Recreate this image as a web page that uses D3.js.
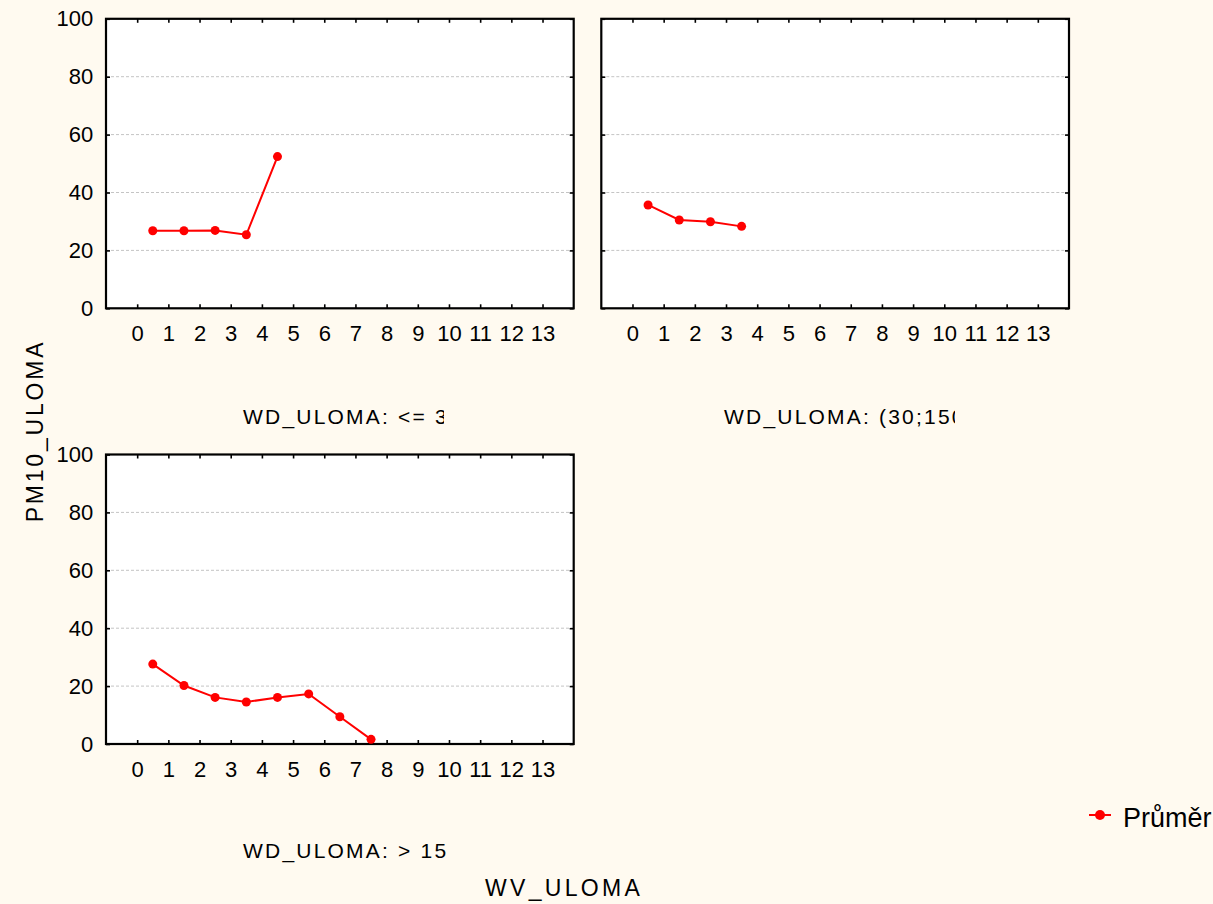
<!DOCTYPE html>
<html>
<head>
<meta charset="utf-8">
<script src="https://cdn.jsdelivr.net/npm/d3@7"></script>
<style>
  body { margin: 0; background: #fffaf0; }
  svg { display: block; font-family: "Liberation Sans", Arial, sans-serif; }
</style>
</head>
<body>
<div id="chart"></div>
<script>
// data
const xTicks = [0, 1, 2, 3, 4, 5, 6, 7, 8, 9, 10, 11, 12, 13];
const yTicks = [0, 20, 40, 60, 80, 100];
const gridTicks = [20, 40, 60, 80];

const wvLe30 = [0.5, 1.5, 2.5, 3.5, 4.5];
const pm10Le30 = [26.8, 26.8, 26.9, 25.4, 52.4];

const wv30to150 = [0.5, 1.5, 2.5, 3.5];
const pm1030to150 = [35.7, 30.5, 29.9, 28.3];

const wvGt150 = [0.5, 1.5, 2.5, 3.5, 4.5, 5.5, 6.5, 7.5];
const pm10Gt150 = [27.6, 20.2, 16.1, 14.5, 16.1, 17.3, 9.4, 1.6];

const panelTitles = ["WD_ULOMA: <= 30", "WD_ULOMA: (30;150>", "WD_ULOMA: > 150"];
const legendLabel = "Průměr";

const width = 1213;
const height = 904;
const pw = 467.7;
const ph = 289.5;
const red = "#ff0000";

const svg = d3.select("#chart")
    .append("svg")
    .attr("width", width)
    .attr("height", height);

svg.append("rect")
    .attr("width", width)
    .attr("height", height)
    .attr("fill", "#fffaf0");

const panels = [
    { xs: wvLe30, ys: pm10Le30, left: 106, top: 18.8, yLabels: true, title: panelTitles[0], titleX: 243, titleY: 424, clipR: 444 },
    { xs: wv30to150, ys: pm1030to150, left: 601.3, top: 18.8, yLabels: false, title: panelTitles[1], titleX: 724, titleY: 424, clipR: 955 },
    { xs: wvGt150, ys: pm10Gt150, left: 106, top: 454.5, yLabels: true, title: panelTitles[2], titleX: 243, titleY: 858, clipR: 447 }
];

const x = d3.scaleLinear().domain([-1, 14]).range([0, pw]);
const y = d3.scaleLinear().domain([0, 100]).range([ph, 0]);

const line = d3.line()
    .x(d => x(d[0]))
    .y(d => y(d[1]));

panels.forEach((p, i) => {
    const g = svg.append("g")
        .attr("transform", `translate(${p.left},${p.top})`);

    g.append("rect")
        .attr("width", pw)
        .attr("height", ph)
        .attr("fill", "#ffffff");

    // gridlines
    g.selectAll(".grid")
        .data(gridTicks)
        .enter()
        .append("line")
        .attr("x1", 0)
        .attr("x2", pw)
        .attr("y1", d => y(d))
        .attr("y2", d => y(d))
        .attr("stroke", "#c4c4c4")
        .attr("stroke-width", 1)
        .attr("stroke-dasharray", "3,2");

    // axes
    g.append("g")
        .attr("transform", `translate(0,${ph})`)
        .call(d3.axisBottom(x).tickValues(xTicks).tickSizeInner(-4).tickSizeOuter(0).tickPadding(17));
    g.append("g")
        .call(d3.axisTop(x).tickValues(xTicks).tickSizeInner(-4).tickSizeOuter(0).tickFormat(""));
    g.append("g")
        .call(d3.axisLeft(y).tickValues(yTicks).tickSizeInner(-4).tickSizeOuter(0).tickPadding(12.7)
            .tickFormat(p.yLabels ? d3.format("d") : ""));
    g.append("g")
        .attr("transform", `translate(${pw},0)`)
        .call(d3.axisRight(y).tickValues(yTicks).tickSizeInner(-4).tickSizeOuter(0).tickFormat(""));

    g.selectAll(".domain").remove();
    g.selectAll(".tick line").attr("stroke", "#000").attr("stroke-width", 1.6);
    g.selectAll(".tick text")
        .attr("fill", "#000")
        .style("font-size", "22px")
        .style("font-family", "\"Liberation Sans\", Arial, sans-serif");

    // frame
    g.append("rect")
        .attr("width", pw)
        .attr("height", ph)
        .attr("fill", "none")
        .attr("stroke", "#000")
        .attr("stroke-width", 2.2);

    // series
    const pts = p.xs.map((v, j) => [v, p.ys[j]]);
    g.append("path")
        .datum(pts)
        .attr("d", line)
        .attr("fill", "none")
        .attr("stroke", red)
        .attr("stroke-width", 2);

    g.selectAll(".dot")
        .data(pts)
        .enter()
        .append("circle")
        .attr("cx", d => x(d[0]))
        .attr("cy", d => y(d[1]))
        .attr("r", 4.5)
        .attr("fill", red);

    // panel title, clipped like the original
    svg.append("clipPath")
        .attr("id", `clip${i}`)
        .append("rect")
        .attr("x", 0)
        .attr("y", p.titleY - 30)
        .attr("width", p.clipR)
        .attr("height", 40);

    svg.append("text")
        .attr("x", p.titleX)
        .attr("y", p.titleY)
        .attr("clip-path", `url(#clip${i})`)
        .style("font-size", "21px")
        .style("letter-spacing", "2.2px")
        .attr("fill", "#000")
        .text(p.title);
});

// axis titles
svg.append("text")
    .attr("transform", "translate(43,431) rotate(-90)")
    .attr("text-anchor", "middle")
    .style("font-size", "23px")
    .style("letter-spacing", "2.8px")
    .attr("fill", "#000")
    .text("PM10_ULOMA");

svg.append("text")
    .attr("x", 485)
    .attr("y", 896)
    .style("font-size", "23px")
    .style("letter-spacing", "3.3px")
    .attr("fill", "#000")
    .text("WV_ULOMA");

// legend
const lg = svg.append("g").attr("transform", "translate(1089,815)");
lg.append("line")
    .attr("x1", 0)
    .attr("x2", 22)
    .attr("stroke", red)
    .attr("stroke-width", 2);
lg.append("circle")
    .attr("cx", 11)
    .attr("r", 5)
    .attr("fill", red);
lg.append("text")
    .attr("x", 34)
    .attr("y", 12)
    .style("font-size", "27px")
    .attr("fill", "#000")
    .text(legendLabel);
</script>
</body>
</html>
